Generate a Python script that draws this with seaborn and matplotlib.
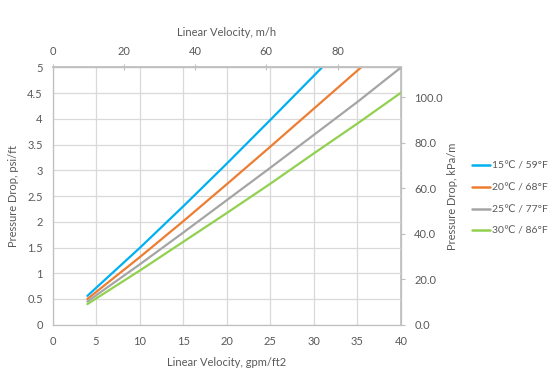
import numpy as np
import pandas as pd
import matplotlib
matplotlib.use("Agg")
import matplotlib.pyplot as plt
import seaborn as sns

velocity = [4, 10, 15, 20, 25, 30, 35, 40]
series_names = ["15℃ / 59°F", "20℃ / 68°F", "25℃ / 77°F", "30℃ / 86°F"]
dp_15 = [0.56, 1.49, 2.30, 3.13, 3.98, 4.84, 5.70, 6.60]
dp_20 = [0.50, 1.31, 2.01, 2.73, 3.46, 4.20, 4.94, 5.68]
dp_25 = [0.45, 1.17, 1.79, 2.42, 3.05, 3.69, 4.33, 5.00]
dp_30 = [0.40, 1.05, 1.61, 2.17, 2.74, 3.33, 3.91, 4.51]
colors = ["#00B0F0", "#ED7D31", "#A5A5A5", "#92D050"]
x_ticks = [0, 5, 10, 15, 20, 25, 30, 35, 40]
y_ticks = [0, 0.5, 1, 1.5, 2, 2.5, 3, 3.5, 4, 4.5, 5]
top_ticks = [0, 20, 40, 60, 80]
right_ticks = [0, 20, 40, 60, 80, 100]

GPM_TO_MH = 2.4448
PSI_TO_KPA = 22.6206

frames = []
for name, vals in zip(series_names, [dp_15, dp_20, dp_25, dp_30]):
    frames.append(pd.DataFrame({"v": velocity, "dp": vals, "series": name}))
df = pd.concat(frames, ignore_index=True)

sns.set_theme(style="white")
plt.rcParams["font.family"] = ["Lato", "DejaVu Sans"]
TXT = "#595959"
AXC = "#BFBFBF"
GRID = "#D9D9D9"
FS = 8

fig = plt.figure(figsize=(5.54, 3.90), dpi=100)
ax = fig.add_axes([0.0948, 0.1675, 0.629, 0.6595])

sns.lineplot(data=df, x="v", y="dp", hue="series", palette=colors,
             hue_order=series_names, linewidth=1.6, ax=ax, legend=True)

ax.set_xlim(0, 40)
ax.set_ylim(0, 5)
ax.set_xticks(x_ticks)
ax.set_yticks(y_ticks)
ax.set_yticklabels([f"{t:g}" for t in y_ticks])
ax.grid(True, color=GRID, linewidth=0.9)
ax.set_axisbelow(True)
for s in ax.spines.values():
    s.set_color(AXC)
    s.set_linewidth(0.9)
ax.tick_params(axis="both", colors=AXC, labelcolor=TXT, labelsize=FS,
               direction="inout", length=4, width=0.8)
ax.tick_params(axis="x", pad=6.5)
ax.tick_params(axis="y", pad=5)
ax.set_xlabel("Linear Velocity, gpm/ft2", color=TXT, fontsize=FS, labelpad=7)
ax.set_ylabel("Pressure Drop, psi/ft", color=TXT, fontsize=FS, labelpad=6)

top = ax.secondary_xaxis("top", functions=(lambda x: x * GPM_TO_MH, lambda x: x / GPM_TO_MH))
top.set_xticks(top_ticks)
top.tick_params(colors=AXC, labelcolor=TXT, labelsize=FS, direction="inout",
                length=4, width=0.8, pad=5.5)
top.spines["top"].set_color(AXC)
top.set_xlabel("Linear Velocity, m/h", color=TXT, fontsize=FS, labelpad=7)

right = ax.secondary_yaxis("right", functions=(lambda y: y * PSI_TO_KPA, lambda y: y / PSI_TO_KPA))
right.set_yticks(right_ticks)
right.set_yticklabels([f"{t:.1f}" for t in right_ticks])
right.tick_params(colors=AXC, labelcolor=TXT, labelsize=FS, direction="out",
                  length=3, width=0.8, pad=6.5)
right.spines["right"].set_color(AXC)
right.set_ylabel("Pressure Drop, kPa/m", color=TXT, fontsize=FS, labelpad=3)

leg = ax.legend(loc="center left", bbox_to_anchor=(1.203, 0.49), frameon=False,
                fontsize=7.5, handlelength=1.8, handletextpad=0.1,
                labelspacing=1.2, borderaxespad=0, borderpad=0)
for t in leg.get_texts():
    t.set_color(TXT)
for h in leg.get_lines():
    h.set_linewidth(1.8)

fig.savefig("out.png", dpi=100, facecolor="white")
